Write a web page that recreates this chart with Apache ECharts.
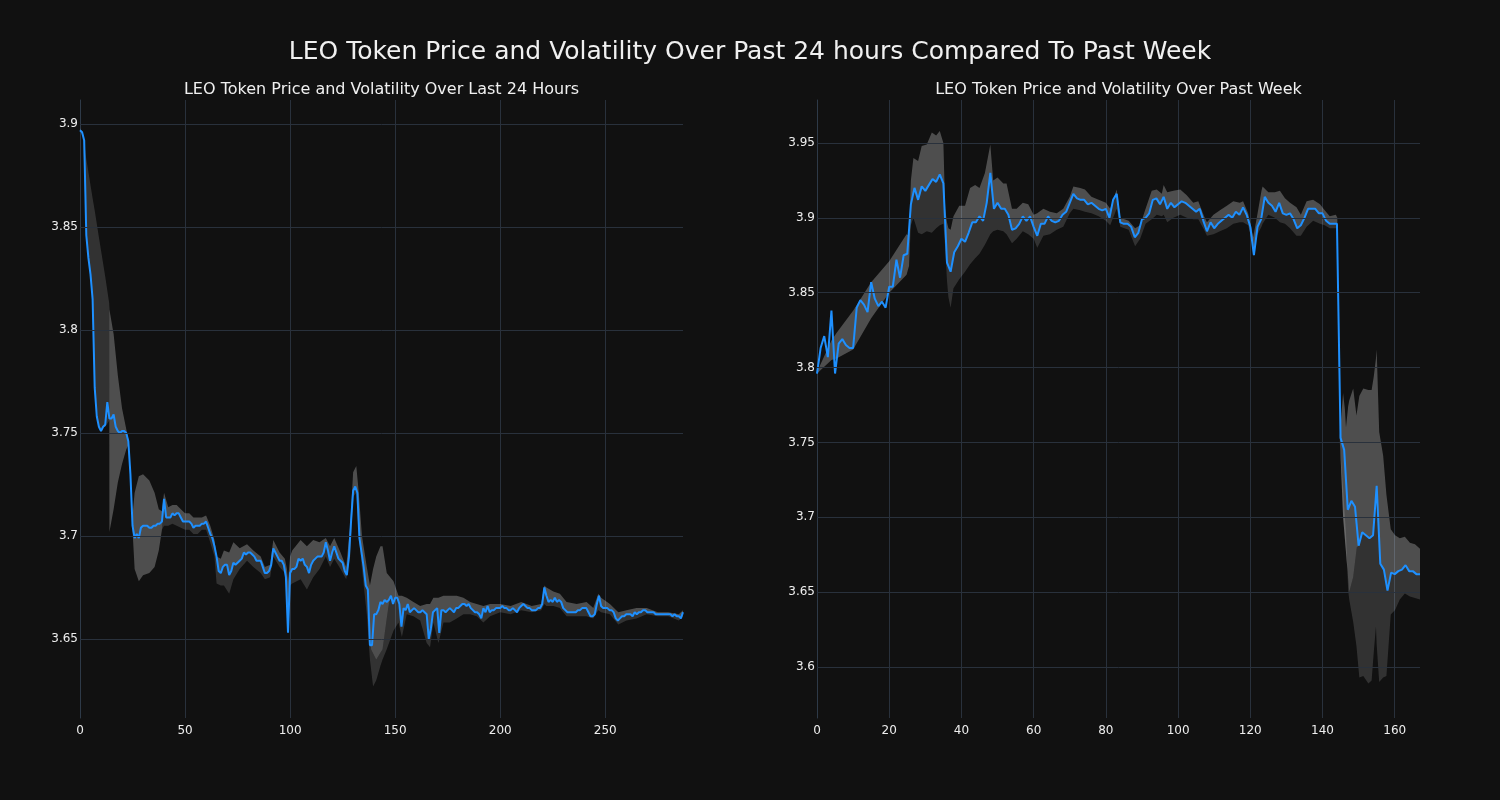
<!DOCTYPE html>
<html>
<head>
<meta charset="utf-8">
<script src="https://cdn.jsdelivr.net/npm/echarts@6/dist/echarts.min.js"></script>
<style>
html,body{margin:0;padding:0;background:#111111;}
#chart{width:1500px;height:800px;}
</style>
</head>
<body>
<div id="chart"></div>
<script>
// ---- Left: last 24 hours (index = 5-minute step) ----
const leftPrice = [
3.897,3.896,3.892,3.846,3.835,3.827,3.815,3.772,3.758,3.753,
3.751,3.753,3.754,3.765,3.757,3.757,3.759,3.753,3.751,3.750,
3.751,3.751,3.750,3.746,3.730,3.705,3.699,3.701,3.699,3.704,
3.705,3.705,3.705,3.704,3.704,3.705,3.705,3.706,3.706,3.707,
3.718,3.709,3.709,3.709,3.711,3.710,3.711,3.711,3.709,3.707,
3.707,3.707,3.707,3.706,3.704,3.705,3.705,3.705,3.706,3.706,
3.707,3.704,3.701,3.699,3.695,3.690,3.683,3.682,3.685,3.686,
3.686,3.681,3.683,3.687,3.686,3.687,3.688,3.689,3.692,3.691,
3.692,3.692,3.691,3.690,3.688,3.688,3.688,3.685,3.682,3.682,
3.683,3.686,3.694,3.692,3.690,3.688,3.688,3.686,3.680,3.653,
3.682,3.684,3.684,3.685,3.689,3.688,3.689,3.686,3.685,3.682,
3.686,3.688,3.689,3.690,3.690,3.690,3.692,3.697,3.693,3.688,
3.692,3.695,3.692,3.689,3.688,3.687,3.683,3.681,3.690,3.707,
3.722,3.724,3.721,3.699,3.692,3.685,3.676,3.674,3.647,3.647,
3.662,3.662,3.664,3.668,3.667,3.669,3.668,3.669,3.671,3.667,
3.670,3.670,3.667,3.656,3.665,3.664,3.667,3.663,3.664,3.665,
3.664,3.663,3.663,3.664,3.663,3.662,3.650,3.655,3.663,3.664,
3.665,3.653,3.664,3.664,3.663,3.664,3.665,3.664,3.663,3.665,
3.665,3.666,3.667,3.667,3.666,3.667,3.665,3.664,3.663,3.663,
3.662,3.660,3.665,3.663,3.666,3.663,3.664,3.664,3.665,3.665,
3.665,3.666,3.665,3.665,3.664,3.664,3.665,3.664,3.663,3.665,
3.666,3.667,3.666,3.665,3.665,3.664,3.664,3.664,3.665,3.665,
3.667,3.675,3.671,3.668,3.669,3.668,3.670,3.668,3.669,3.668,
3.665,3.664,3.663,3.663,3.663,3.663,3.663,3.664,3.664,3.665,
3.665,3.665,3.663,3.661,3.661,3.662,3.667,3.671,3.666,3.665,
3.665,3.665,3.664,3.664,3.663,3.660,3.659,3.660,3.661,3.661,
3.662,3.662,3.662,3.661,3.663,3.662,3.663,3.663,3.664,3.664,
3.663,3.663,3.663,3.663,3.662,3.662,3.662,3.662,3.662,3.662,
3.662,3.662,3.661,3.662,3.661,3.661,3.660,3.663
];
// volatility band outline [x, low, high]
const leftBand = [
[0,3.897,3.898],[1.5,3.894,3.895],[3,3.845,3.883],[6,3.815,3.864],[7,3.772,3.858],
[9,3.752,3.845],[12,3.753,3.826],[13.9,3.756,3.813],[14,3.702,3.810],[16,3.713,3.798],
[18,3.726,3.778],[20,3.735,3.762],[22,3.742,3.752],[23,3.744,3.747],[24,3.728,3.732],
[25,3.703,3.710],[26,3.684,3.721],[28,3.678,3.729],[30,3.681,3.730],[33,3.682,3.727],
[35.5,3.685,3.721],[37.5,3.693,3.713],[39,3.703,3.712],[40,3.705,3.721],[42,3.705,3.714],
[44,3.706,3.715],[46,3.705,3.715],[48,3.704,3.713],[50,3.703,3.711],[52,3.703,3.711],
[54,3.701,3.709],[56,3.701,3.709],[58,3.703,3.709],[60,3.703,3.710],[62,3.697,3.705],
[64,3.690,3.698],[65,3.677,3.690],[67,3.676,3.689],[68.5,3.676,3.693],[71,3.672,3.692],
[73,3.679,3.697],[76,3.684,3.694],[79.5,3.688,3.696],[82.5,3.685,3.693],[86,3.682,3.690],
[88,3.679,3.685],[90.5,3.680,3.686],[92,3.690,3.698],[95,3.685,3.692],[97.5,3.682,3.689],
[98.5,3.675,3.684],[99,3.652,3.678],[100,3.676,3.690],[101,3.677,3.693],[105,3.679,3.698],
[108,3.674,3.695],[111,3.680,3.698],[114,3.684,3.697],[117,3.690,3.699],[119,3.685,3.695],
[121,3.689,3.699],[124,3.684,3.692],[126.7,3.679,3.685],[128.6,3.690,3.705],[130,3.719,3.731],
[131.5,3.721,3.734],[132.6,3.701,3.722],[134.2,3.684,3.700],[136.5,3.662,3.685],[138,3.640,3.676],
[139.5,3.627,3.684],[141,3.630,3.690],[143,3.637,3.695],[144,3.640,3.695],[146,3.645,3.682],
[149.2,3.654,3.678],[151.6,3.658,3.671],[153.2,3.651,3.671],[155.5,3.662,3.670],[158.7,3.661,3.668],
[161.9,3.659,3.666],[165,3.648,3.667],[166.6,3.646,3.667],[168.2,3.658,3.670],[170.6,3.648,3.670],
[173,3.658,3.671],[176,3.658,3.671],[179.3,3.660,3.671],[182.5,3.662,3.670],[185.7,3.662,3.668],
[188.8,3.661,3.667],[192,3.658,3.666],[195.2,3.661,3.667],[200,3.663,3.667],[205,3.662,3.666],
[210,3.664,3.668],[215,3.663,3.666],[219.5,3.664,3.667],[221,3.667,3.676],[222,3.666,3.675],
[225.3,3.666,3.673],[228.4,3.665,3.672],[231.6,3.661,3.668],[236.4,3.661,3.667],[241.1,3.661,3.668],
[244.3,3.660,3.665],[246.7,3.664,3.672],[248,3.663,3.670],[252.2,3.662,3.667],[256.2,3.657,3.663],
[260.1,3.659,3.664],[264.9,3.660,3.665],[269.7,3.662,3.665],[275,3.661,3.663],[280,3.661,3.663],
[285,3.659,3.662],[287,3.661,3.664]
];
// where the light/dark split departs from the price line [x, split]
const leftSplitPatches = [
  [[0,3.898],[1.5,3.895],[3,3.883],[6,3.864],[7,3.858],[9,3.845],[12,3.826],[13.9,3.813]],
  [[14,3.702],[16,3.713],[18,3.726],[20,3.735],[22,3.742],[23,3.744]],
  [[25,3.703],[26,3.684],[28,3.678],[30,3.681],[33,3.682],[35.5,3.685],[37.5,3.693],[39,3.703]],
  [[137,3.672],[138.5,3.645],[141,3.640],[144,3.645],[146,3.660],[147,3.667]]
];
const leftTicks = [3.65, 3.7, 3.75, 3.8, 3.85, 3.9];

// ---- Right: past week (index = hour) ----
const rightPrice = [
3.796,3.813,3.821,3.807,3.838,3.796,3.816,3.819,3.815,3.813,
3.813,3.840,3.845,3.842,3.837,3.857,3.846,3.841,3.844,3.840,
3.854,3.854,3.872,3.860,3.875,3.876,3.909,3.920,3.912,3.921,
3.918,3.922,3.926,3.924,3.929,3.923,3.870,3.864,3.877,3.881,
3.886,3.884,3.890,3.897,3.897,3.901,3.898,3.910,3.930,3.906,
3.910,3.906,3.906,3.902,3.892,3.893,3.896,3.901,3.898,3.901,
3.894,3.888,3.896,3.896,3.901,3.898,3.897,3.898,3.902,3.904,
3.910,3.916,3.913,3.912,3.912,3.909,3.910,3.908,3.906,3.905,
3.906,3.900,3.912,3.916,3.897,3.896,3.896,3.894,3.887,3.890,
3.899,3.900,3.903,3.912,3.913,3.909,3.914,3.906,3.910,3.907,
3.909,3.911,3.910,3.908,3.906,3.904,3.906,3.898,3.891,3.897,
3.893,3.896,3.898,3.900,3.902,3.900,3.904,3.902,3.907,3.902,
3.894,3.875,3.894,3.899,3.914,3.910,3.908,3.904,3.910,3.903,
3.902,3.903,3.899,3.893,3.895,3.900,3.906,3.906,3.906,3.903,
3.903,3.898,3.896,3.896,3.896,3.753,3.745,3.705,3.711,3.707,
3.681,3.690,3.688,3.686,3.688,3.721,3.669,3.665,3.651,3.663,
3.662,3.664,3.665,3.668,3.664,3.664,3.662,3.662
];
const rightBand = [
[0,3.796,3.797],[4,3.805,3.818],[5.4,3.806,3.823],[10,3.812,3.838],[15,3.833,3.857],
[20,3.850,3.871],[24.8,3.862,3.889],[25.5,3.868,3.888],[26,3.895,3.925],[26.7,3.900,3.940],
[28,3.890,3.938],[29,3.889,3.948],[30.4,3.891,3.949],[31.8,3.890,3.957],[33,3.893,3.955],
[34,3.895,3.958],[35,3.896,3.950],[35.5,3.880,3.906],[36,3.858,3.897],[36.4,3.847,3.893],
[37,3.840,3.892],[37.8,3.853,3.901],[39.4,3.859,3.908],[41,3.864,3.908],[42.4,3.869,3.920],
[43.8,3.873,3.922],[45,3.876,3.920],[46.5,3.882,3.930],[48,3.889,3.949],[48.8,3.891,3.925],
[50,3.892,3.927],[51.6,3.891,3.923],[52.5,3.889,3.923],[54,3.883,3.906],[55.3,3.886,3.906],
[57,3.891,3.910],[58.5,3.889,3.909],[60,3.886,3.902],[61,3.880,3.903],[62.7,3.888,3.906],
[64.5,3.889,3.904],[66.4,3.892,3.903],[68.2,3.894,3.906],[70,3.903,3.914],[71,3.906,3.921],
[72.9,3.905,3.920],[74.2,3.904,3.919],[76,3.903,3.914],[78,3.901,3.912],[80,3.898,3.910],
[81.2,3.895,3.906],[83,3.906,3.919],[84,3.894,3.900],[86.3,3.892,3.898],[88.1,3.881,3.893],
[89.5,3.886,3.895],[91,3.896,3.906],[92.7,3.899,3.918],[94.1,3.902,3.919],[95.5,3.901,3.916],
[96,3.902,3.922],[97,3.897,3.917],[98.7,3.900,3.918],[100.6,3.902,3.919],[102.4,3.900,3.915],
[104.2,3.899,3.910],[105.6,3.899,3.911],[107.2,3.892,3.901],[108,3.888,3.897],[109.8,3.889,3.902],
[111.6,3.891,3.905],[113.5,3.893,3.908],[115.3,3.896,3.911],[117.1,3.897,3.910],[118,3.897,3.911],
[119.4,3.895,3.903],[120.4,3.885,3.892],[120.8,3.874,3.887],[121.8,3.888,3.900],[123.1,3.894,3.918],
[123.4,3.896,3.921],[125,3.902,3.917],[126.8,3.900,3.917],[128.2,3.897,3.918],[129.6,3.896,3.913],
[131,3.893,3.910],[132.8,3.888,3.907],[134,3.888,3.902],[135.6,3.894,3.911],[137.4,3.898,3.912],
[139.3,3.896,3.909],[140.6,3.895,3.905],[142,3.893,3.901],[143.7,3.893,3.902],[144.1,3.890,3.900],
[144.8,3.749,3.755],[145.7,3.720,3.783],[146.2,3.700,3.772],[146.5,3.690,3.760],[147.1,3.651,3.774],
[147.4,3.645,3.778],[148.5,3.630,3.786],[149.4,3.614,3.768],[150.2,3.593,3.781],[151.3,3.594,3.786],
[152.7,3.589,3.785],[153.6,3.591,3.785],[154.2,3.610,3.794],[154.8,3.627,3.806],[155,3.615,3.812],
[155.7,3.590,3.757],[156.8,3.593,3.741],[157.7,3.594,3.715],[158.9,3.635,3.692],[160.1,3.638,3.688],
[161.4,3.645,3.686],[162.8,3.649,3.687],[164.2,3.647,3.683],[165.6,3.646,3.682],[167,3.645,3.679]
];
const rightSplitPatches = [
  [[0,3.796],[4,3.805],[5.4,3.806],[10,3.812],[15,3.833],[20,3.850],[24.8,3.862],[25.5,3.868]],
  [[144.8,3.752],[145.7,3.700],[147.4,3.650],[148.5,3.660],[149.5,3.680]]
];
const rightTicks = [3.6, 3.65, 3.7, 3.75, 3.8, 3.85, 3.9, 3.95];

const leftTitle = 'LEO Token Price and Volatility Over Last 24 Hours';
const rightTitle = 'LEO Token Price and Volatility Over Past Week';
const mainTitle = 'LEO Token Price and Volatility Over Past 24 hours Compared To Past Week';

function buildShapes(price, band, patches) {
  const inPatch = x => patches.some(p => x >= p[0][0] && x <= p[p.length - 1][0]);
  let boundary = price.map((v, i) => [i, v]).filter(p => !inPatch(p[0]));
  patches.forEach(p => { boundary = boundary.concat(p); });
  boundary.sort((a, b) => a[0] - b[0]);
  const lo = band.map(b => [b[0], b[1]]);
  const hi = band.map(b => [b[0], b[2]]);
  return { dark: [boundary, lo], light: [hi, boundary] };
}

function polySeries(idx, upper, lower, fill) {
  return {
    type: 'custom', xAxisIndex: idx, yAxisIndex: idx, silent: true, clip: true, z: 1,
    data: [[upper[0][0], upper[0][1]]],
    renderItem: function (params, api) {
      if (params.dataIndex !== 0) return null;
      const pts = upper.map(p => api.coord(p)).concat(lower.slice().reverse().map(p => api.coord(p)));
      return { type: 'polygon', shape: { points: pts }, style: { fill: fill } };
    }
  };
}

const FONT = 'DejaVu Sans';
const GRIDC = '#29313c';
const DARK = 'rgba(255,255,255,0.14)';
const LIGHT = 'rgba(255,255,255,0.26)';

function fmt(v) { return String(parseFloat(Number(v).toFixed(3))); }

function xAxis(idx, max, interval) {
  return {
    type: 'value', gridIndex: idx, min: 0, max: max, interval: interval,
    axisLine: { show: false }, axisTick: { show: false },
    axisLabel: { color: '#eeeeee', fontFamily: FONT, fontSize: 12, margin: 7, showMaxLabel: false },
    splitLine: { show: true, showMaxLine: false, lineStyle: { color: GRIDC, width: 1 } }
  };
}
function yAxis(idx, min, max, ticks) {
  return {
    type: 'value', gridIndex: idx, min: min, max: max,
    axisLine: { show: true, lineStyle: { color: '#2e3a48', width: 1 } },
    axisTick: { show: false, customValues: ticks },
    axisLabel: { color: '#eeeeee', fontFamily: FONT, fontSize: 12, margin: 2,
      customValues: ticks, formatter: fmt },
    splitLine: { show: false }
  };
}
// horizontal grid lines at the tick values, placed by the axis scale
function gridLines(ticks) {
  return {
    silent: true, symbol: 'none', label: { show: false },
    lineStyle: { color: GRIDC, width: 1, type: 'solid' },
    data: ticks.map(t => ({ yAxis: t }))
  };
}

const L = buildShapes(leftPrice, leftBand, leftSplitPatches);
const R = buildShapes(rightPrice, rightBand, rightSplitPatches);

const chart = echarts.init(document.getElementById('chart'), null, { renderer: 'canvas' });
chart.setOption({
  backgroundColor: '#111111',
  animation: false,
  title: [
    { text: mainTitle, left: 750, top: 40, textAlign: 'center', padding: 0,
      textStyle: { color: '#f0f0f0', fontSize: 25, fontWeight: 'normal', fontFamily: FONT } },
    { text: leftTitle, left: 381.5, top: 82, textAlign: 'center', padding: 0,
      textStyle: { color: '#f0f0f0', fontSize: 16, fontWeight: 'normal', fontFamily: FONT } },
    { text: rightTitle, left: 1118.5, top: 82, textAlign: 'center', padding: 0,
      textStyle: { color: '#f0f0f0', fontSize: 16, fontWeight: 'normal', fontFamily: FONT } }
  ],
  grid: [
    { left: 80, top: 100, width: 603, height: 618 },
    { left: 817, top: 100, width: 603, height: 618 }
  ],
  xAxis: [xAxis(0, 287, 50), xAxis(1, 167, 20)],
  yAxis: [yAxis(0, 3.61165, 3.91165, leftTicks), yAxis(1, 3.5659, 3.9787, rightTicks)],
  series: [
    { type: 'line', xAxisIndex: 0, yAxisIndex: 0, z: 0, data: [], silent: true,
      markLine: gridLines(leftTicks) },
    { type: 'line', xAxisIndex: 1, yAxisIndex: 1, z: 0, data: [], silent: true,
      markLine: gridLines(rightTicks) },
    polySeries(0, L.dark[0], L.dark[1], DARK),
    polySeries(0, L.light[0], L.light[1], LIGHT),
    polySeries(1, R.dark[0], R.dark[1], DARK),
    polySeries(1, R.light[0], R.light[1], LIGHT),
    { type: 'line', xAxisIndex: 0, yAxisIndex: 0, z: 3, showSymbol: false, silent: true,
      data: leftPrice.map((v, i) => [i, v]), lineStyle: { color: '#1E90FF', width: 2 } },
    { type: 'line', xAxisIndex: 1, yAxisIndex: 1, z: 3, showSymbol: false, silent: true,
      data: rightPrice.map((v, i) => [i, v]), lineStyle: { color: '#1E90FF', width: 2 } }
  ]
});
</script>
</body>
</html>
